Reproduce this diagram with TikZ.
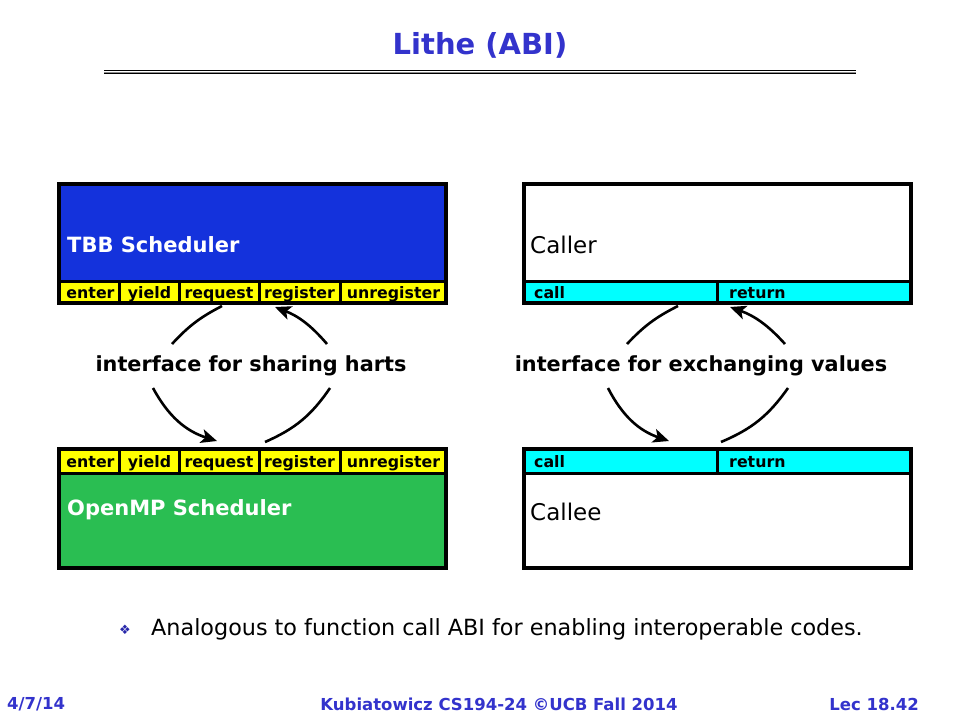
\documentclass[tikz,border=0pt]{standalone}
\usepackage{fontspec}
\setmainfont{DejaVu Sans}
\usetikzlibrary{arrows.meta,calc}
\definecolor{tblue}{RGB}{51,51,204}
\definecolor{schedblue}{RGB}{20,50,220}
\definecolor{schedgreen}{RGB}{42,190,82}
\definecolor{baryellow}{RGB}{255,255,0}
\definecolor{barcyan}{RGB}{0,255,255}
\definecolor{bulblue}{RGB}{40,40,170}
\newcommand\fsz[1]{\fontsize{#1}{#1}\selectfont}
\tikzset{
  frame/.style={draw=black,line width=4pt,minimum width=387pt,minimum height=119pt,inner sep=0pt},
  sep/.style={line width=3pt,black},
  bartext/.style={font=\fsz{15.8}\bfseries,inner sep=0pt,text=black,anchor=base},
  boxlabel/.style={anchor=west,inner sep=0pt},
  iflabel/.style={font=\fsz{20.8}\bfseries,inner sep=0pt},
  conn/.style={line width=2.6pt,black},
  connarr/.style={conn,-{Stealth[length=16pt,width=14pt,inset=4pt]}},
  footer/.style={font=\fsz{16.5}\bfseries,text=tblue,inner sep=0pt}
}
\begin{document}
\begin{tikzpicture}[x=1pt,y=-1pt]
\useasboundingbox (0,0) rectangle (960,720);
\fill[white] (0,0) rectangle (960,720);
% title
\node[font=\fsz{29}\bfseries,text=tblue,inner sep=0pt] (title) at (480,45) {Lithe (ABI)};
\draw[line width=1.8pt,black] (104,70.5) -- (856,70.5);
\draw[line width=1pt,black!45] (104,72.3) -- (856,72.3);
\draw[line width=1.2pt,black] (104,73.8) -- (856,73.8);

% ---- left top: TBB
\fill[schedblue] (59,184) rectangle (446,281);
\fill[baryellow] (59,281) rectangle (446,303);
\draw[sep] (59,281) -- (446,281);
\foreach \x in {119.5,179.5,259,340} \draw[sep] (\x,281) -- (\x,303);
\node[frame] (tbb) at (252.5,243.5) {};
\node[boxlabel,font=\fsz{21}\bfseries,text=white] (tbbl) at (67,245) {TBB Scheduler};
\node[bartext] (te1) at (90.5,298.5) {enter};
\node[bartext] (te2) at (149.5,298.5) {yield};
\node[bartext] (te3) at (219,298.5) {request};
\node[bartext] (te4) at (299.5,298.5) {register};
\node[bartext] (te5) at (393.5,298.5) {unregister};

% ---- left bottom: OpenMP
\fill[baryellow] (59,449) rectangle (446,473);
\fill[schedgreen] (59,473) rectangle (446,568);
\draw[sep] (59,473) -- (446,473);
\foreach \x in {119.5,179.5,259,340} \draw[sep] (\x,449) -- (\x,473);
\node[frame] (omp) at (252.5,508.5) {};
\node[boxlabel,font=\fsz{21}\bfseries,text=white] (ompl) at (67,510) {OpenMP Scheduler};
\node[bartext] (be1) at (90.5,467) {enter};
\node[bartext] (be2) at (149.5,467) {yield};
\node[bartext] (be3) at (219,467) {request};
\node[bartext] (be4) at (299.5,467) {register};
\node[bartext] (be5) at (393.5,467) {unregister};

% ---- right top: Caller
\fill[barcyan] (524,281) rectangle (911,303);
\draw[sep] (524,281) -- (911,281);
\draw[sep] (717,281) -- (717,303);
\node[frame] (caller) at (717.5,243.5) {};
\node[boxlabel,font=\fsz{23}] (callerl) at (530,245) {Caller};
\node[bartext,anchor=base west] (tc1) at (534,298.5) {call};
\node[bartext,anchor=base west] (tc2) at (729,298.5) {return};

% ---- right bottom: Callee
\fill[barcyan] (524,449) rectangle (911,473);
\draw[sep] (524,473) -- (911,473);
\draw[sep] (717,449) -- (717,473);
\node[frame] (callee) at (717.5,508.5) {};
\node[boxlabel,font=\fsz{23}] (calleel) at (530,512) {Callee};
\node[bartext,anchor=base west] (bc1) at (534,467) {call};
\node[bartext,anchor=base west] (bc2) at (729,467) {return};

% ---- interface labels
\node[iflabel] (ifl) at (251,366) {interface for sharing harts};
\node[iflabel] (ifr) at (701,366) {interface for exchanging values};

% ---- connectors (left)
\coordinate (la1) at (172,344);
\coordinate (la2) at ($(tbb.south west)+(165,1)$);
\coordinate (lb1) at (327,344);
\coordinate (lb2) at ($(tbb.south west)+(218,2)$);
\coordinate (lc1) at (153,388);
\coordinate (lc2) at ($(omp.north west)+(160,-6)$);
\coordinate (ld1) at (330,388);
\coordinate (ld2) at ($(omp.north west)+(208,-5)$);
\draw[conn] (la1) to[bend left=10] (la2);
\draw[connarr] (lb1) to[bend right=14] (lb2);
\draw[connarr] (lc1) to[bend right=22] (lc2);
\draw[conn] (ld1) to[bend left=16] (ld2);

% ---- connectors (right)
\coordinate (ra1) at (627,344);
\coordinate (ra2) at ($(caller.south west)+(156,1)$);
\coordinate (rb1) at (785,344);
\coordinate (rb2) at ($(caller.south west)+(208,2)$);
\coordinate (rc1) at (608,388);
\coordinate (rc2) at ($(callee.north west)+(147,-6)$);
\coordinate (rd1) at (788,388);
\coordinate (rd2) at ($(callee.north west)+(199,-5)$);
\draw[conn] (ra1) to[bend left=10] (ra2);
\draw[connarr] (rb1) to[bend right=14] (rb2);
\draw[connarr] (rc1) to[bend right=22] (rc2);
\draw[conn] (rd1) to[bend left=16] (rd2);

% ---- bullet
\node[inner sep=0pt,text=bulblue,font=\fsz{13}] (bul) at (125,630) {❖};
\node[anchor=west,inner sep=0pt,font=\fsz{22.3}] (btext) at (151,629) {Analogous to function call ABI for enabling interoperable codes.};

% ---- footer
\node[footer,anchor=west] (fdate) at (7,704) {4/7/14};
\node[footer] (fmid) at (499,704) {Kubiatowicz CS194-24 ©UCB Fall 2014};
\node[footer,anchor=east] (flec) at (919,704) {Lec 18.42};
\end{tikzpicture}
\end{document}
